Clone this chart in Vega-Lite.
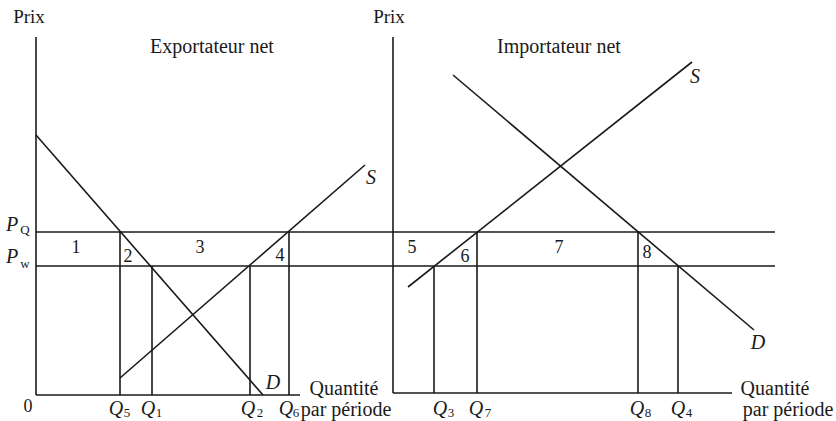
{
  "$schema": "https://vega.github.io/schema/vega-lite/v6.json",
  "width": 836,
  "height": 421,
  "padding": 0,
  "autosize": {"type": "fit", "contains": "padding"},
  "background": "white",
  "config": {"view": {"stroke": null}},
  "datasets": {
    "segments": [
      {"name": "axe prix (exportateur)", "x": 36, "y": 384, "x2": 36, "y2": 26},
      {"name": "axe quantité (exportateur)", "x": 36, "y": 26, "x2": 300, "y2": 26},
      {"name": "PQ", "x": 36, "y": 189, "x2": 775, "y2": 189},
      {"name": "Pw", "x": 36, "y": 155, "x2": 775, "y2": 155},
      {"name": "D exportateur", "x": 36, "y": 286, "x2": 263, "y2": 26},
      {"name": "S exportateur", "x": 120, "y": 43, "x2": 365, "y2": 256},
      {"name": "Q5", "x": 120, "y": 189, "x2": 120, "y2": 26},
      {"name": "Q1", "x": 152, "y": 155, "x2": 152, "y2": 26},
      {"name": "Q2", "x": 250, "y": 155, "x2": 250, "y2": 26},
      {"name": "Q6", "x": 289, "y": 189, "x2": 289, "y2": 26},
      {"name": "axe prix (importateur)", "x": 393, "y": 384, "x2": 393, "y2": 28},
      {"name": "axe quantité (importateur)", "x": 393, "y": 28, "x2": 732, "y2": 28},
      {"name": "S importateur", "x": 408, "y": 134, "x2": 692, "y2": 359},
      {"name": "D importateur", "x": 453, "y": 346, "x2": 754, "y2": 91},
      {"name": "Q3", "x": 434, "y": 155, "x2": 434, "y2": 28},
      {"name": "Q7", "x": 477, "y": 189, "x2": 477, "y2": 28},
      {"name": "Q8", "x": 638, "y": 189, "x2": 638, "y2": 28},
      {"name": "Q4", "x": 678, "y": 155, "x2": 678, "y2": 28}
    ],
    "labels": [
      {"text": "Prix", "x": 29, "y": 404, "size": 19},
      {"text": "Prix", "x": 389, "y": 404, "size": 19},
      {"text": "Exportateur net", "x": 212, "y": 374, "size": 20},
      {"text": "Importateur net", "x": 559, "y": 374, "size": 20},
      {"text": "1", "x": 76, "y": 173, "size": 18},
      {"text": "2", "x": 128, "y": 164, "size": 18},
      {"text": "3", "x": 200, "y": 173, "size": 18},
      {"text": "4", "x": 280, "y": 165, "size": 18},
      {"text": "5", "x": 412, "y": 173, "size": 18},
      {"text": "6", "x": 465, "y": 164, "size": 18},
      {"text": "7", "x": 559, "y": 173, "size": 18},
      {"text": "8", "x": 647, "y": 168, "size": 18},
      {"text": "0", "x": 28, "y": 14, "size": 18},
      {"text": "Quantité", "x": 344, "y": 32, "size": 20},
      {"text": "par période", "x": 346, "y": 11, "size": 20},
      {"text": "Quantité", "x": 775, "y": 32, "size": 20},
      {"text": "par période", "x": 788, "y": 11, "size": 20}
    ],
    "letters": [
      {"text": "D", "x": 273, "y": 38},
      {"text": "D", "x": 758, "y": 78},
      {"text": "S", "x": 371, "y": 243},
      {"text": "S", "x": 695, "y": 344},
      {"text": "P", "x": 12, "y": 196},
      {"text": "P", "x": 12, "y": 164},
      {"text": "Q", "x": 116, "y": 12},
      {"text": "Q", "x": 148, "y": 12},
      {"text": "Q", "x": 248, "y": 12},
      {"text": "Q", "x": 286, "y": 12},
      {"text": "Q", "x": 440, "y": 12},
      {"text": "Q", "x": 476, "y": 12},
      {"text": "Q", "x": 637, "y": 12},
      {"text": "Q", "x": 678, "y": 12}
    ],
    "subscripts": [
      {"text": "Q", "x": 25, "y": 191, "style": "italic"},
      {"text": "w", "x": 25, "y": 157, "style": "italic"},
      {"text": "5", "x": 127, "y": 8, "style": "normal"},
      {"text": "1", "x": 159, "y": 8, "style": "normal"},
      {"text": "2", "x": 260, "y": 8, "style": "normal"},
      {"text": "6", "x": 296, "y": 8, "style": "normal"},
      {"text": "3", "x": 451, "y": 8, "style": "normal"},
      {"text": "7", "x": 488, "y": 8, "style": "normal"},
      {"text": "8", "x": 648, "y": 8, "style": "normal"},
      {"text": "4", "x": 689, "y": 8, "style": "normal"}
    ]
  },
  "layer": [
    {
      "data": {"name": "segments"},
      "mark": {"type": "rule", "color": "#1a1a1a", "strokeWidth": 1.6},
      "encoding": {
        "x": {"field": "x", "type": "quantitative", "scale": {"domain": [0, 836], "nice": false, "zero": false}, "axis": null},
        "x2": {"field": "x2"},
        "y": {"field": "y", "type": "quantitative", "scale": {"domain": [0, 421], "nice": false, "zero": false}, "axis": null},
        "y2": {"field": "y2"}
      }
    },
    {
      "data": {"name": "labels"},
      "mark": {"type": "text", "font": "Liberation Serif", "color": "#1a1a1a", "align": "center", "baseline": "middle"},
      "encoding": {
        "x": {"field": "x", "type": "quantitative"},
        "y": {"field": "y", "type": "quantitative"},
        "text": {"field": "text"},
        "size": {"field": "size", "type": "quantitative", "scale": null}
      }
    },
    {
      "data": {"name": "letters"},
      "mark": {"type": "text", "font": "Liberation Serif", "fontSize": 20, "fontStyle": "italic", "color": "#1a1a1a", "align": "center", "baseline": "middle"},
      "encoding": {
        "x": {"field": "x", "type": "quantitative"},
        "y": {"field": "y", "type": "quantitative"},
        "text": {"field": "text"}
      }
    },
    {
      "data": {"name": "subscripts"},
      "mark": {"type": "text", "font": "Liberation Serif", "fontSize": 13, "color": "#1a1a1a", "align": "center", "baseline": "middle"},
      "encoding": {
        "x": {"field": "x", "type": "quantitative"},
        "y": {"field": "y", "type": "quantitative"},
        "text": {"field": "text"},
        "fontStyle": {"field": "style", "type": "nominal", "scale": null}
      }
    }
  ]
}
